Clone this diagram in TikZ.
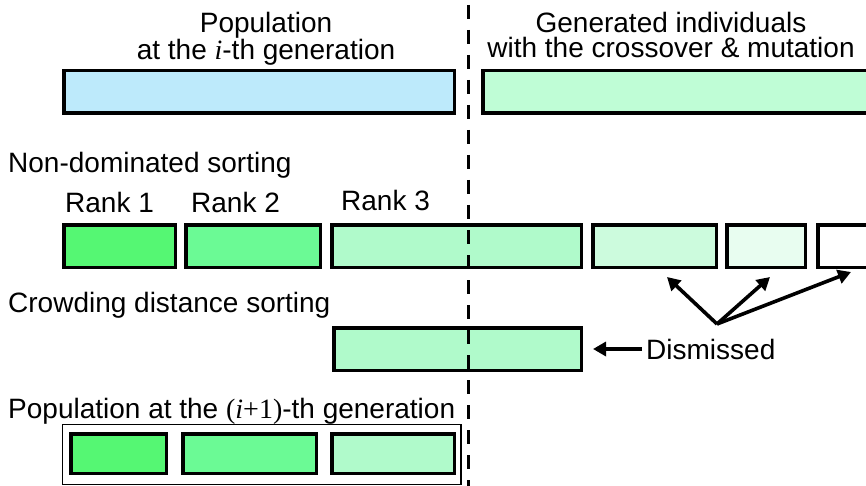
\documentclass[tikz,border=0pt]{standalone}
\usepackage{fontspec}
\setmainfont{Liberation Sans}
\newfontfamily\tnr{Liberation Serif}
\usetikzlibrary{arrows.meta}

\definecolor{popblue}{HTML}{BDEAFB}
\definecolor{offgreen}{HTML}{BFFDD6}
\definecolor{rankA}{HTML}{55F773}
\definecolor{rankB}{HTML}{6BFA95}
\definecolor{rankC}{HTML}{B0FACB}
\definecolor{rankD}{HTML}{CCFBDD}
\definecolor{rankE}{HTML}{E8FDF0}

\tikzset{
  cell/.style={draw=black, line width=3.5pt, inner sep=0pt, minimum height=42.5pt},
  lbl/.style={font=\fontsize{28}{32}\selectfont, inner sep=0pt},
  head/.style={inner sep=0pt, align=center, anchor=north, font=\fontsize{28}{25}\selectfont},
  arr/.style={line width=3.6pt, -{Triangle[length=13pt,width=14pt]}},
  cut/.style={line width=3pt, dash pattern=on 14pt off 11pt, dash phase=20pt}
}

\begin{document}
\begin{tikzpicture}[x=1pt,y=-1pt]
\useasboundingbox (0,0) rectangle (866,486);
\clip (0,0) rectangle (866,486);

% headings
\node[head] (pop) at (266,12) {Population\\at the {\tnr\itshape i}-th generation};
\node[head] (gen) at (671,12) {Generated individuals\\with the crossover \& mutation};

% parents and offspring
\node[cell, fill=popblue, minimum width=390.5pt] (parents) at (259,92) {};
\node[cell, fill=offgreen, minimum width=415.5pt] (offspring) at (690.5,92) {};

% non-dominated sorting
\node[lbl, anchor=base west] (nds) at (8,173) {Non-dominated sorting};
\node[lbl, anchor=base west] (rk1) at (65,213) {Rank 1};
\node[lbl, anchor=base west] (rk2) at (191,213) {Rank 2};
\node[lbl, anchor=base west] (rk3) at (341,211) {Rank 3};

\node[cell, fill=rankA, minimum width=111.5pt] (r1) at (119.5,246) {};
\node[cell, fill=rankB, minimum width=134.5pt] (r2) at (253,246) {};
\node[cell, fill=rankC, minimum width=249.5pt] (r3) at (456.5,246) {};
\node[cell, fill=rankD, minimum width=123.5pt] (r4) at (654.5,246) {};
\node[cell, fill=rankE, minimum width=78.5pt] (r5) at (766,246) {};
\node[cell, fill=white, minimum width=80.5pt] (r6) at (858,246) {};

% crowding distance sorting
\node[lbl, anchor=base west] (cds) at (8,312) {Crowding distance sorting};
\node[cell, fill=rankC, minimum width=247.5pt] (crowd) at (457.5,349) {};

\node[lbl, anchor=base west] (dis) at (646,359) {Dismissed};
\draw[arr] (dis.west |- crowd.east) ++(-4,0) -- ([xshift=10pt]crowd.east);

\coordinate (hub) at (717,324);
\coordinate (t1) at (667,277);
\coordinate (t2) at (770,277);
\coordinate (t3) at (851,272);
\draw[arr] (hub) -- (t1);
\draw[arr] (hub) -- (t2);
\draw[arr] (hub) -- (t3);

% next population
\node[lbl, anchor=base west] (next) at (8,418) {Population at the {\tnr(\textit{i}+1)}-th generation};
\node[draw=black, line width=1.2pt, inner sep=0pt, minimum width=398.8pt, minimum height=59.8pt] (nextpop) at (261.5,454.5) {};
\node[cell, fill=rankA, minimum width=95.5pt, minimum height=39.5pt] (n1) at (118.5,453.5) {};
\node[cell, fill=rankB, minimum width=133.5pt, minimum height=39.5pt] (n2) at (249.5,453.5) {};
\node[cell, fill=rankC, minimum width=122.5pt, minimum height=39.5pt] (n3) at (393,453.5) {};

% generation boundary
\coordinate (cuttop) at (468.5,0);
\coordinate (cutbot) at (468.5,486);
\draw[cut] (cuttop) -- (cutbot);
\end{tikzpicture}
\end{document}
